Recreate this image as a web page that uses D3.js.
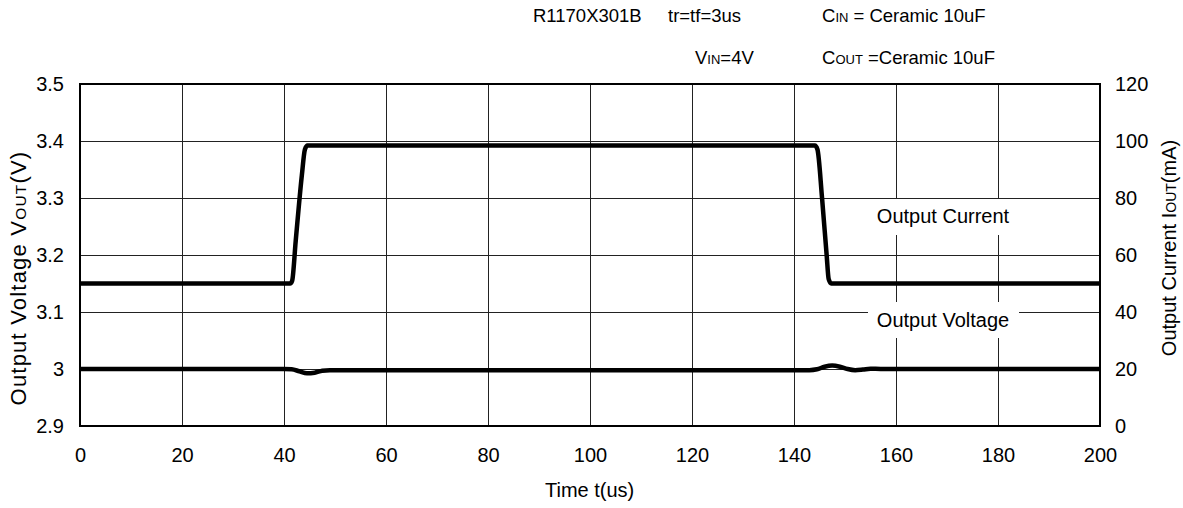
<!DOCTYPE html>
<html><head><meta charset="utf-8">
<script src="https://cdn.jsdelivr.net/npm/d3@7"></script>
<style>
body{margin:0;background:#fff;}
svg{display:block;font-family:"Liberation Sans",Arial,sans-serif;}
</style></head>
<body><svg id="c" width="1183" height="508"></svg>
<script>
// ---- data ----
const xTicks = [0,20,40,60,80,100,120,140,160,180,200];
const xTickLabels = ["0","20","40","60","80","100","120","140","160","180","200"];
const yLeftTicks = [2.9,3.0,3.1,3.2,3.3,3.4,3.5];
const yLeftTickLabels = ["2.9","3","3.1","3.2","3.3","3.4","3.5"];
const yRightTicks = [0,20,40,60,80,100,120];
const yRightTickLabels = ["0","20","40","60","80","100","120"];

const currentTime = [0,41.2,41.6,42.3,43.5,44.1,44.6,100,144.1,144.6,145.5,146.4,146.8,147.3,200];
const currentMA   = [50,50,51,65,88,97,98.4,98.4,98.4,97,80,60,51.5,50,50];

const voltTime = [0,40,41.5,43,44.5,46,47.5,49,52,100,143,144.5,146,147.5,149,150.5,152,153.5,155,157,200];
const voltV    = [3.0,3.0,2.9995,2.996,2.9925,2.9935,2.997,2.998,2.998,2.998,2.998,2.9995,3.004,3.006,3.004,3.0,2.998,2.999,3.0005,3.0,3.0];

// ---- layout ----
const svg = d3.select("#c");
const L=80, R=1100, T=84, B=426;
const x = d3.scaleLinear().domain([0,200]).range([L,R]);
const yL = d3.scaleLinear().domain([2.9,3.5]).range([B,T]);
const yR = d3.scaleLinear().domain([0,120]).range([B,T]);

// grid
const grid = svg.append("g").attr("stroke","#222").attr("stroke-width",1).attr("shape-rendering","crispEdges");
grid.selectAll(".gx").data(xTicks).enter().append("line")
  .attr("x1",d=>x(d)).attr("x2",d=>x(d)).attr("y1",T).attr("y2",B);
grid.selectAll(".gy").data(yLeftTicks).enter().append("line")
  .attr("x1",L).attr("x2",R).attr("y1",d=>yL(d)).attr("y2",d=>yL(d));

// white label boxes
svg.append("rect").attr("x",868).attr("y",199).attr("width",151).attr("height",36).attr("fill","#fff");
svg.append("rect").attr("x",868).attr("y",302).attr("width",151).attr("height",36).attr("fill","#fff");

// frame
svg.append("rect").attr("x",L).attr("y",T).attr("width",R-L).attr("height",B-T)
  .attr("fill","none").attr("stroke","#000").attr("stroke-width",2);

// axes
const fs = 20;
const ax = svg.append("g").attr("transform",`translate(0,${B})`)
  .call(d3.axisBottom(x).tickValues(xTicks).tickFormat((d,i)=>xTickLabels[i]).tickSize(0).tickPadding(22));
const ayl = svg.append("g").attr("transform",`translate(${L},0)`)
  .call(d3.axisLeft(yL).tickValues(yLeftTicks).tickFormat((d,i)=>yLeftTickLabels[i]).tickSize(0).tickPadding(16));
const ayr = svg.append("g").attr("transform",`translate(${R},0)`)
  .call(d3.axisRight(yR).tickValues(yRightTicks).tickFormat((d,i)=>yRightTickLabels[i]).tickSize(0).tickPadding(15));
[ax,ayl,ayr].forEach(g=>{
  g.select(".domain").remove();
  g.selectAll("text").attr("font-size",fs).attr("font-family","Liberation Sans, Arial, sans-serif").attr("fill","#000");
});

// lines
const lineCur = d3.line().x(d=>x(d[0])).y(d=>yR(d[1])).curve(d3.curveMonotoneX);
const lineVolt = d3.line().x(d=>x(d[0])).y(d=>yL(d[1])).curve(d3.curveMonotoneX);
svg.append("path").datum(currentTime.map((t,i)=>[t,currentMA[i]]))
  .attr("d",lineCur).attr("fill","none").attr("stroke","#000").attr("stroke-width",4.5).attr("stroke-linejoin","round");
svg.append("path").datum(voltTime.map((t,i)=>[t,voltV[i]]))
  .attr("d",lineVolt).attr("fill","none").attr("stroke","#000").attr("stroke-width",4.5).attr("stroke-linejoin","round");

// series labels
svg.append("text").attr("x",943).attr("y",223).attr("text-anchor","middle").attr("font-size",fs).text("Output Current");
svg.append("text").attr("x",943).attr("y",327).attr("text-anchor","middle").attr("font-size",fs).text("Output Voltage");

// axis titles
svg.append("text").attr("x",545).attr("y",497).attr("font-size",fs).text("Time t(us)");
const tl = svg.append("text").attr("transform","translate(26,278) rotate(-90)").attr("text-anchor","middle")
  .attr("font-size",22).attr("letter-spacing",1.2);
tl.append("tspan").text("Output Voltage V");
tl.append("tspan").attr("font-size",15.5).text("OUT");
tl.append("tspan").text("(V)");
const tr = svg.append("text").attr("transform","translate(1176,248) rotate(-90)").attr("text-anchor","middle").attr("font-size",fs);
tr.append("tspan").text("Output Current I");
tr.append("tspan").attr("font-size",14).text("OUT");
tr.append("tspan").text("(mA)");

// header
const hs = 18.5;
svg.append("text").attr("x",533).attr("y",22).attr("font-size",hs).text("R1170X301B");
svg.append("text").attr("x",668).attr("y",22).attr("font-size",hs).text("tr=tf=3us");
const c1 = svg.append("text").attr("x",822).attr("y",22).attr("font-size",hs);
c1.append("tspan").text("C"); c1.append("tspan").attr("font-size",13).text("IN"); c1.append("tspan").text(" = Ceramic 10uF");
const v1 = svg.append("text").attr("x",695).attr("y",64).attr("font-size",hs);
v1.append("tspan").text("V"); v1.append("tspan").attr("font-size",13).text("IN"); v1.append("tspan").text("=4V");
const c2 = svg.append("text").attr("x",822).attr("y",64).attr("font-size",hs);
c2.append("tspan").text("C"); c2.append("tspan").attr("font-size",13).text("OUT"); c2.append("tspan").text(" =Ceramic 10uF");
</script></body></html>
